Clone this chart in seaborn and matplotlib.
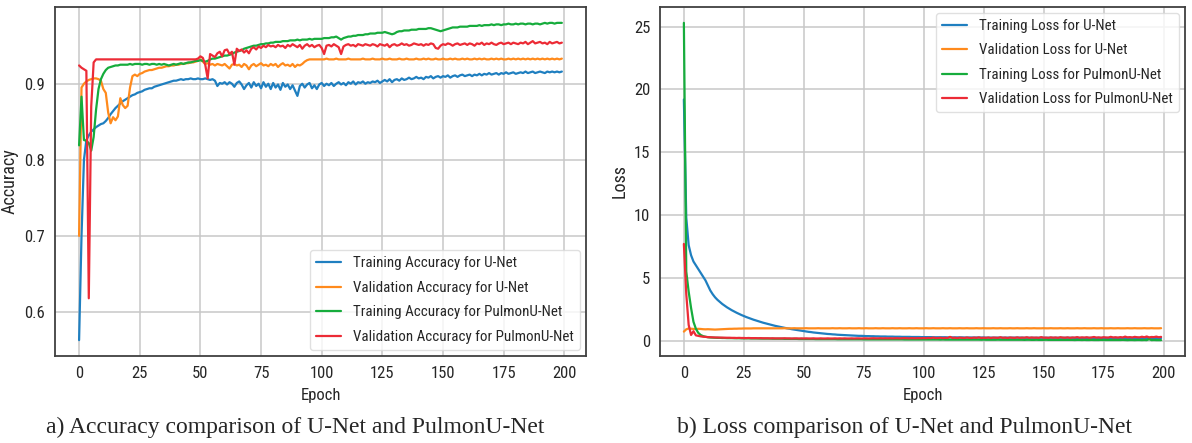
import numpy as np
import pandas as pd
import matplotlib
matplotlib.use("Agg")
import matplotlib.pyplot as plt
from matplotlib import font_manager
import seaborn as sns

epochs = np.arange(200)

# ---- accuracy curves (left panel) ----
train_acc_unet = [
    0.563, 0.700, 0.800, 0.826, 0.832, 0.837, 0.840, 0.843, 0.845, 0.847, 0.848, 0.851, 0.855, 0.860, 0.864, 0.868, 0.871, 0.874, 0.877, 0.879,
    0.881, 0.883, 0.885, 0.886, 0.888, 0.889, 0.890, 0.892, 0.893, 0.894, 0.894, 0.896, 0.897, 0.898, 0.899, 0.900, 0.901, 0.902, 0.903, 0.904,
    0.904, 0.905, 0.906, 0.905, 0.906, 0.906, 0.907, 0.906, 0.906, 0.907, 0.906, 0.906, 0.907, 0.906, 0.905, 0.906, 0.904, 0.897, 0.901, 0.900,
    0.902, 0.899, 0.902, 0.900, 0.896, 0.901, 0.903, 0.899, 0.893, 0.898, 0.901, 0.895, 0.902, 0.897, 0.900, 0.894, 0.902, 0.896, 0.900, 0.893,
    0.901, 0.895, 0.899, 0.892, 0.901, 0.896, 0.899, 0.893, 0.898, 0.891, 0.884, 0.897, 0.900, 0.895, 0.899, 0.901, 0.894, 0.898, 0.893, 0.899,
    0.901, 0.897, 0.900, 0.898, 0.901, 0.897, 0.900, 0.902, 0.899, 0.901, 0.898, 0.902, 0.900, 0.903, 0.899, 0.902, 0.901, 0.903, 0.900, 0.902,
    0.901, 0.903, 0.902, 0.904, 0.901, 0.903, 0.905, 0.903, 0.906, 0.902, 0.905, 0.906, 0.904, 0.907, 0.905, 0.906, 0.908, 0.906, 0.907, 0.909,
    0.907, 0.908, 0.906, 0.909, 0.908, 0.910, 0.907, 0.909, 0.910, 0.908, 0.910, 0.909, 0.911, 0.908, 0.910, 0.911, 0.909, 0.911, 0.912, 0.910,
    0.911, 0.912, 0.910, 0.912, 0.911, 0.913, 0.911, 0.913, 0.912, 0.914, 0.912, 0.913, 0.914, 0.912, 0.914, 0.913, 0.915, 0.913, 0.914, 0.915,
    0.913, 0.914, 0.915, 0.914, 0.916, 0.914, 0.915, 0.916, 0.914, 0.915, 0.916, 0.915, 0.914, 0.916, 0.915, 0.916, 0.915, 0.916, 0.915, 0.916,
]
val_acc_unet = [
    0.700, 0.895, 0.900, 0.903, 0.905, 0.906, 0.907, 0.907, 0.906, 0.904, 0.893, 0.888, 0.862, 0.848, 0.856, 0.852, 0.857, 0.881, 0.872, 0.868,
    0.871, 0.895, 0.910, 0.912, 0.910, 0.913, 0.914, 0.916, 0.917, 0.918, 0.918, 0.919, 0.920, 0.921, 0.921, 0.922, 0.923, 0.923, 0.924, 0.924,
    0.925, 0.925, 0.926, 0.926, 0.927, 0.927, 0.928, 0.928, 0.929, 0.930, 0.932, 0.929, 0.926, 0.927, 0.925, 0.926, 0.924, 0.926, 0.925, 0.924,
    0.926, 0.923, 0.920, 0.925, 0.926, 0.924, 0.925, 0.922, 0.926, 0.924, 0.919, 0.924, 0.926, 0.923, 0.925, 0.927, 0.924, 0.925, 0.923, 0.926,
    0.924, 0.926, 0.922, 0.925, 0.927, 0.924, 0.925, 0.923, 0.926, 0.922, 0.925, 0.924, 0.926, 0.929, 0.931, 0.932, 0.932, 0.932, 0.932, 0.932,
    0.932, 0.932, 0.933, 0.932, 0.932, 0.932, 0.933, 0.932, 0.932, 0.932, 0.932, 0.933, 0.932, 0.932, 0.932, 0.932, 0.932, 0.933, 0.932, 0.932,
    0.932, 0.933, 0.932, 0.932, 0.932, 0.933, 0.932, 0.932, 0.933, 0.932, 0.932, 0.932, 0.933, 0.932, 0.932, 0.933, 0.932, 0.932, 0.932, 0.933,
    0.932, 0.932, 0.933, 0.932, 0.933, 0.932, 0.932, 0.933, 0.932, 0.932, 0.933, 0.932, 0.932, 0.933, 0.932, 0.933, 0.932, 0.932, 0.933, 0.932,
    0.933, 0.932, 0.932, 0.933, 0.932, 0.933, 0.932, 0.933, 0.932, 0.932, 0.933, 0.932, 0.933, 0.932, 0.933, 0.932, 0.932, 0.933, 0.932, 0.933,
    0.932, 0.933, 0.932, 0.933, 0.932, 0.933, 0.932, 0.933, 0.932, 0.933, 0.932, 0.933, 0.932, 0.933, 0.932, 0.933, 0.932, 0.933, 0.932, 0.933,
]
train_acc_pulmon = [
    0.819, 0.883, 0.826, 0.825, 0.822, 0.812, 0.830, 0.866, 0.893, 0.906, 0.913, 0.918, 0.921, 0.922, 0.923, 0.924, 0.924, 0.925, 0.925, 0.925,
    0.925, 0.926, 0.925, 0.926, 0.926, 0.926, 0.925, 0.926, 0.926, 0.925, 0.926, 0.926, 0.925, 0.926, 0.925, 0.926, 0.925, 0.924, 0.925, 0.926,
    0.925, 0.926, 0.927, 0.926, 0.927, 0.928, 0.928, 0.929, 0.930, 0.930, 0.931, 0.930, 0.929, 0.930, 0.932, 0.933, 0.933, 0.934, 0.935, 0.936,
    0.937, 0.937, 0.938, 0.939, 0.941, 0.942, 0.943, 0.944, 0.946, 0.947, 0.948, 0.949, 0.950, 0.950, 0.951, 0.952, 0.952, 0.953, 0.953, 0.954,
    0.954, 0.955, 0.955, 0.955, 0.956, 0.956, 0.956, 0.957, 0.957, 0.957, 0.958, 0.957, 0.958, 0.958, 0.958, 0.959, 0.958, 0.959, 0.959, 0.959,
    0.959, 0.960, 0.960, 0.960, 0.961, 0.961, 0.962, 0.960, 0.958, 0.960, 0.961, 0.962, 0.962, 0.963, 0.963, 0.964, 0.964, 0.964, 0.965, 0.965,
    0.966, 0.966, 0.966, 0.967, 0.967, 0.967, 0.968, 0.967, 0.966, 0.965, 0.966, 0.968, 0.969, 0.969, 0.970, 0.970, 0.970, 0.971, 0.971, 0.971,
    0.972, 0.972, 0.972, 0.972, 0.973, 0.973, 0.972, 0.971, 0.970, 0.969, 0.970, 0.971, 0.972, 0.973, 0.974, 0.974, 0.974, 0.975, 0.975, 0.975,
    0.975, 0.976, 0.976, 0.976, 0.976, 0.977, 0.976, 0.977, 0.977, 0.977, 0.978, 0.977, 0.978, 0.978, 0.977, 0.978, 0.978, 0.979, 0.978, 0.978,
    0.979, 0.978, 0.979, 0.979, 0.978, 0.979, 0.979, 0.978, 0.979, 0.979, 0.978, 0.979, 0.980, 0.979, 0.980, 0.980, 0.979, 0.980, 0.980, 0.980,
]
val_acc_pulmon = [
    0.924, 0.921, 0.919, 0.917, 0.618, 0.870, 0.928, 0.932, 0.932, 0.932, 0.932, 0.932, 0.932, 0.932, 0.932, 0.932, 0.932, 0.932, 0.932, 0.932,
    0.932, 0.932, 0.932, 0.932, 0.932, 0.932, 0.932, 0.932, 0.932, 0.932, 0.932, 0.932, 0.932, 0.932, 0.932, 0.932, 0.932, 0.932, 0.932, 0.932,
    0.932, 0.932, 0.932, 0.932, 0.932, 0.932, 0.932, 0.932, 0.932, 0.933, 0.936, 0.934, 0.925, 0.907, 0.939, 0.937, 0.935, 0.940, 0.942, 0.936,
    0.944, 0.945, 0.939, 0.942, 0.925, 0.946, 0.943, 0.945, 0.941, 0.944, 0.940, 0.946, 0.948, 0.945, 0.949, 0.947, 0.950, 0.948, 0.951, 0.949,
    0.950, 0.948, 0.951, 0.949, 0.950, 0.947, 0.951, 0.949, 0.952, 0.950, 0.948, 0.951, 0.946, 0.950, 0.952, 0.949, 0.951, 0.948, 0.950, 0.951,
    0.947, 0.939, 0.950, 0.951, 0.949, 0.952, 0.950, 0.948, 0.939, 0.949, 0.951, 0.952, 0.950, 0.951, 0.949, 0.952, 0.951, 0.950, 0.952, 0.951,
    0.950, 0.952, 0.951, 0.949, 0.952, 0.951, 0.950, 0.952, 0.948, 0.951, 0.952, 0.950, 0.951, 0.953, 0.951, 0.952, 0.950, 0.951, 0.953, 0.952,
    0.951, 0.952, 0.950, 0.952, 0.951, 0.953, 0.952, 0.947, 0.946, 0.950, 0.952, 0.951, 0.953, 0.952, 0.950, 0.952, 0.953, 0.951, 0.952, 0.953,
    0.951, 0.953, 0.952, 0.950, 0.953, 0.952, 0.954, 0.951, 0.953, 0.952, 0.954, 0.952, 0.951, 0.953, 0.954, 0.952, 0.953, 0.954, 0.952, 0.954,
    0.953, 0.952, 0.954, 0.953, 0.955, 0.952, 0.954, 0.956, 0.953, 0.954, 0.955, 0.953, 0.954, 0.952, 0.955, 0.953, 0.954, 0.955, 0.953, 0.954,
]

# ---- loss curves (right panel) ----
train_loss_unet = [
    19.2, 9.8, 7.6, 6.8, 6.3, 6.0, 5.7, 5.4, 5.1, 4.8, 4.4, 4.0, 3.7, 3.45, 3.25, 3.08, 2.92, 2.78, 2.65, 2.53,
    2.42, 2.32, 2.22, 2.13, 2.04, 1.96, 1.88, 1.81, 1.74, 1.67, 1.61, 1.55, 1.49, 1.43, 1.38, 1.33, 1.28, 1.23, 1.18, 1.14,
    1.10, 1.06, 1.02, 0.98, 0.95, 0.91, 0.88, 0.85, 0.82, 0.79, 0.76, 0.73, 0.70, 0.68, 0.65, 0.63, 0.61, 0.59, 0.57, 0.55,
    0.53, 0.52, 0.50, 0.49, 0.47, 0.46, 0.45, 0.44, 0.43, 0.42, 0.41, 0.40, 0.39, 0.38, 0.38, 0.37, 0.36, 0.36, 0.35, 0.35,
    0.34, 0.34, 0.33, 0.33, 0.33, 0.32, 0.32, 0.32, 0.31, 0.31, 0.31, 0.30, 0.30, 0.30, 0.30, 0.29, 0.29, 0.29, 0.29, 0.28,
    0.28, 0.28, 0.28, 0.28, 0.27, 0.27, 0.27, 0.27, 0.27, 0.27, 0.26, 0.26, 0.26, 0.26, 0.26, 0.26, 0.26, 0.25, 0.25, 0.25,
    0.25, 0.25, 0.25, 0.25, 0.25, 0.25, 0.24, 0.24, 0.24, 0.24, 0.24, 0.24, 0.24, 0.24, 0.24, 0.24, 0.24, 0.24, 0.24, 0.24,
    0.24, 0.24, 0.23, 0.23, 0.23, 0.23, 0.23, 0.23, 0.23, 0.23, 0.23, 0.23, 0.23, 0.23, 0.23, 0.23, 0.23, 0.23, 0.23, 0.23,
    0.23, 0.23, 0.23, 0.22, 0.22, 0.22, 0.22, 0.22, 0.22, 0.22, 0.22, 0.22, 0.22, 0.22, 0.22, 0.22, 0.22, 0.22, 0.22, 0.22,
    0.22, 0.22, 0.22, 0.22, 0.22, 0.22, 0.22, 0.22, 0.22, 0.22, 0.21, 0.21, 0.21, 0.21, 0.21, 0.21, 0.21, 0.21, 0.21, 0.21,
]
val_loss_unet = [
    0.72, 0.90, 0.97, 0.95, 0.93, 0.92, 0.94, 0.93, 0.91, 0.90, 0.91, 0.90, 0.89, 0.88, 0.89, 0.90, 0.91, 0.92, 0.93, 0.94,
    0.94, 0.95, 0.95, 0.96, 0.96, 0.97, 0.97, 0.97, 0.97, 0.98, 0.98, 0.98, 0.98, 0.98, 0.98, 0.98, 0.98, 0.98, 0.98, 0.98,
    0.98, 0.98, 0.99, 0.98, 0.98, 0.98, 0.99, 0.98, 0.98, 0.98, 0.98, 0.99, 0.98, 0.98, 0.98, 0.98, 0.99, 0.98, 0.98, 0.98,
    0.98, 0.98, 0.99, 0.98, 0.98, 0.99, 0.98, 0.98, 0.98, 0.99, 0.98, 0.98, 0.98, 0.99, 0.98, 0.98, 0.99, 0.98, 0.98, 0.98,
    0.99, 0.98, 0.98, 0.99, 0.98, 0.98, 0.98, 0.99, 0.98, 0.98, 0.99, 0.98, 0.98, 0.98, 0.99, 0.98, 0.98, 0.99, 0.98, 0.98,
    0.98, 0.99, 0.98, 0.98, 0.99, 0.98, 0.98, 0.98, 0.99, 0.98, 0.98, 0.99, 0.98, 0.98, 0.98, 0.99, 0.98, 0.98, 0.99, 0.98,
    0.98, 0.98, 0.99, 0.98, 0.98, 0.99, 0.98, 0.98, 0.98, 0.99, 0.98, 0.98, 0.99, 0.98, 0.98, 0.98, 0.99, 0.98, 0.98, 0.99,
    0.98, 0.98, 0.98, 0.99, 0.98, 0.98, 0.99, 0.98, 0.98, 0.98, 0.99, 0.98, 0.98, 0.99, 0.98, 0.98, 0.98, 0.99, 0.98, 0.98,
    0.99, 0.98, 0.98, 0.98, 0.99, 0.98, 0.98, 0.99, 0.98, 0.98, 0.98, 0.99, 0.98, 0.98, 0.99, 0.98, 0.98, 0.98, 0.99, 0.98,
    0.98, 0.99, 0.98, 0.98, 0.98, 0.99, 0.98, 0.98, 0.99, 0.98, 0.98, 0.98, 0.99, 0.98, 0.98, 0.99, 0.98, 0.98, 0.98, 0.99,
]
train_loss_pulmon = [
    25.3, 5.5, 3.9, 2.6, 1.5, 0.95, 0.62, 0.45, 0.36, 0.31, 0.27, 0.25, 0.24, 0.23, 0.22, 0.22, 0.21, 0.21, 0.20, 0.20,
    0.20, 0.19, 0.19, 0.19, 0.18, 0.18, 0.18, 0.18, 0.17, 0.17, 0.17, 0.17, 0.16, 0.16, 0.16, 0.16, 0.16, 0.15, 0.15, 0.15,
    0.15, 0.15, 0.14, 0.14, 0.14, 0.14, 0.14, 0.14, 0.13, 0.13, 0.13, 0.13, 0.13, 0.13, 0.13, 0.12, 0.12, 0.12, 0.12, 0.12,
    0.12, 0.12, 0.12, 0.12, 0.11, 0.11, 0.11, 0.11, 0.11, 0.11, 0.11, 0.11, 0.11, 0.11, 0.11, 0.10, 0.10, 0.10, 0.10, 0.10,
    0.10, 0.10, 0.10, 0.10, 0.10, 0.10, 0.10, 0.10, 0.10, 0.10, 0.10, 0.10, 0.09, 0.09, 0.09, 0.09, 0.09, 0.09, 0.09, 0.09,
    0.09, 0.09, 0.09, 0.09, 0.09, 0.09, 0.09, 0.08, 0.09, 0.08, 0.08, 0.08, 0.08, 0.08, 0.08, 0.08, 0.08, 0.08, 0.08, 0.08,
    0.08, 0.08, 0.08, 0.08, 0.07, 0.08, 0.07, 0.07, 0.07, 0.07, 0.07, 0.08, 0.07, 0.07, 0.07, 0.07, 0.07, 0.07, 0.07, 0.07,
    0.07, 0.07, 0.06, 0.07, 0.07, 0.06, 0.06, 0.07, 0.06, 0.06, 0.06, 0.07, 0.06, 0.06, 0.06, 0.06, 0.06, 0.06, 0.06, 0.06,
    0.06, 0.06, 0.06, 0.05, 0.06, 0.06, 0.05, 0.06, 0.05, 0.05, 0.06, 0.05, 0.05, 0.05, 0.06, 0.05, 0.05, 0.05, 0.05, 0.05,
    0.05, 0.05, 0.05, 0.06, 0.05, 0.04, 0.05, 0.05, 0.04, 0.05, 0.05, 0.04, 0.05, 0.04, 0.12, 0.04, 0.05, 0.04, 0.04, 0.04,
]
val_loss_pulmon = [
    7.7, 3.7, 1.25, 0.45, 0.75, 0.42, 0.38, 0.34, 0.31, 0.30, 0.28, 0.27, 0.26, 0.25, 0.25, 0.24, 0.24, 0.23, 0.23, 0.23,
    0.22, 0.22, 0.21, 0.22, 0.21, 0.21, 0.20, 0.21, 0.20, 0.20, 0.20, 0.19, 0.20, 0.19, 0.19, 0.19, 0.18, 0.19, 0.18, 0.18,
    0.18, 0.18, 0.19, 0.18, 0.18, 0.17, 0.18, 0.18, 0.17, 0.18, 0.17, 0.18, 0.17, 0.17, 0.18, 0.17, 0.17, 0.18, 0.17, 0.17,
    0.18, 0.17, 0.17, 0.18, 0.17, 0.18, 0.17, 0.18, 0.17, 0.17, 0.18, 0.17, 0.18, 0.18, 0.17, 0.18, 0.18, 0.17, 0.18, 0.19,
    0.18, 0.18, 0.19, 0.18, 0.19, 0.18, 0.19, 0.18, 0.19, 0.19, 0.18, 0.19, 0.20, 0.19, 0.18, 0.20, 0.19, 0.19, 0.20, 0.19,
    0.21, 0.19, 0.22, 0.20, 0.24, 0.20, 0.21, 0.23, 0.20, 0.22, 0.21, 0.30, 0.21, 0.23, 0.20, 0.24, 0.22, 0.21, 0.25, 0.22,
    0.21, 0.24, 0.22, 0.26, 0.21, 0.23, 0.22, 0.25, 0.21, 0.24, 0.23, 0.22, 0.27, 0.22, 0.24, 0.21, 0.25, 0.23, 0.22, 0.26,
    0.22, 0.24, 0.23, 0.27, 0.22, 0.25, 0.23, 0.24, 0.22, 0.28, 0.23, 0.24, 0.22, 0.26, 0.23, 0.25, 0.22, 0.27, 0.24, 0.23,
    0.26, 0.22, 0.25, 0.24, 0.28, 0.23, 0.26, 0.24, 0.27, 0.23, 0.25, 0.29, 0.24, 0.26, 0.23, 0.27, 0.25, 0.24, 0.30, 0.25,
    0.27, 0.24, 0.28, 0.25, 0.32, 0.26, 0.28, 0.25, 0.30, 0.27, 0.26, 0.31, 0.27, 0.33, 0.26, 0.29, 0.28, 0.32, 0.27, 0.30,
]

acc_labels = ["Training Accuracy for U-Net", "Validation Accuracy for U-Net",
              "Training Accuracy for PulmonU-Net", "Validation Accuracy for PulmonU-Net"]
loss_labels = ["Training Loss for U-Net", "Validation Loss for U-Net",
               "Training Loss for PulmonU-Net", "Validation Loss for PulmonU-Net"]
colors = ["#1f7fc0", "#ff8a1c", "#16ac3c", "#ec2b36"]

for arr in [train_acc_unet, val_acc_unet, train_acc_pulmon, val_acc_pulmon,
            train_loss_unet, val_loss_unet, train_loss_pulmon, val_loss_pulmon]:
    assert len(arr) == 200, len(arr)

sns.set_style("whitegrid", {"axes.edgecolor": "0.25", "grid.color": "0.78"})

# the reference text is horizontally squeezed, so prefer a narrow face if one exists
installed = {f.name for f in font_manager.fontManager.ttflist}
condensed = [f.name for f in font_manager.fontManager.ttflist if f.stretch in ("condensed", "semi-condensed")]
narrow = None
for cand in ["DejaVu Sans Condensed", "Liberation Sans Narrow", "Roboto Condensed", "Open Sans Condensed"]:
    if cand in installed:
        narrow = cand
        break
if narrow is None and condensed:
    narrow = condensed[0]
if narrow is None:
    plt.rcParams["font.family"] = ["DejaVu Sans"]
    scale = 0.84
else:
    plt.rcParams["font.family"] = [narrow, "DejaVu Sans"]
    scale = 1.0

fig = plt.figure(figsize=(11.92, 4.43), dpi=100)
ax1 = fig.add_axes([0.0461, 0.1964, 0.4455, 0.7878])
ax2 = fig.add_axes([0.5537, 0.1964, 0.4404, 0.7878])


def draw_panel(ax, series, labels, ylabel, loc):
    for vals, lab, col in zip(series, labels, colors):
        df = pd.DataFrame({"Epoch": epochs, "val": vals})
        sns.lineplot(data=df, x="Epoch", y="val", ax=ax, color=col, lw=1.6, label=lab)
    ax.set_xticks(range(0, 201, 25))
    ax.set_xlabel("Epoch", fontsize=12 * scale, labelpad=5)
    ax.set_ylabel(ylabel, fontsize=13 * scale, labelpad=4)
    ax.tick_params(labelsize=12 * scale, length=4, width=1, color="0.25", pad=3)
    ax.grid(True, lw=1.1)
    for s in ax.spines.values():
        s.set_linewidth(1.3)
    ax.legend(loc=loc, fontsize=10.8 * scale, frameon=True, framealpha=0.8,
              edgecolor="0.85", handlelength=1.7, labelspacing=0.7, borderaxespad=0.4)


draw_panel(ax1, [train_acc_unet, val_acc_unet, train_acc_pulmon, val_acc_pulmon],
           acc_labels, "Accuracy", "lower right")
draw_panel(ax2, [train_loss_unet, val_loss_unet, train_loss_pulmon, val_loss_pulmon],
           loss_labels, "Loss", "upper right")
ax1.set_yticks([0.6, 0.7, 0.8, 0.9])

fig.text(0.2475, 0.036, "a) Accuracy comparison of U-Net and PulmonU-Net",
         ha="center", va="center", fontsize=17, family="Liberation Serif")
fig.text(0.759, 0.036, "b) Loss comparison of U-Net and PulmonU-Net",
         ha="center", va="center", fontsize=17, family="Liberation Serif")

fig.savefig("out.png", dpi=100)
